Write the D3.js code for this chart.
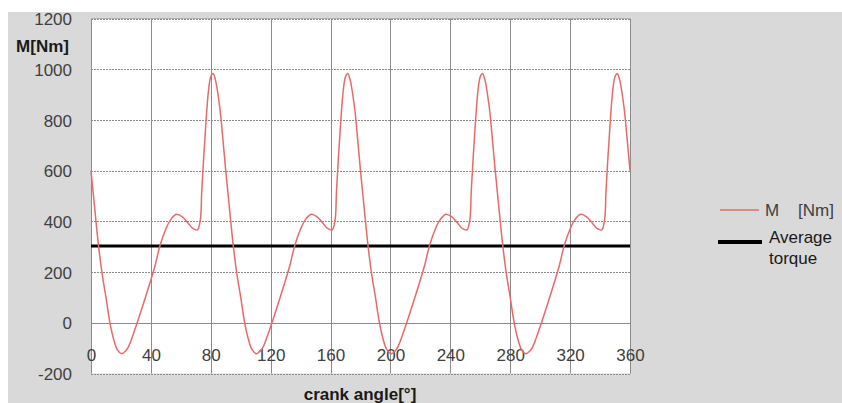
<!DOCTYPE html>
<html>
<head>
<meta charset="utf-8">
<script src="https://cdn.jsdelivr.net/npm/d3@7/dist/d3.min.js"></script>
<style>
  html, body { margin: 0; padding: 0; background: #ffffff; }
  svg { display: block; }
  text { font-family: "Liberation Sans", Arial, sans-serif; }
</style>
</head>
<body>
<svg id="chart" width="842" height="403"></svg>
<script>
// ---- data ----
const angles = [
  0, 2.5, 5, 7.5, 10, 12.5, 15, 17.5, 20.5, 23, 25, 30, 35, 40, 43, 46, 50, 53, 57, 61, 65, 68, 71, 73, 74, 76, 78.5, 80, 81.5, 83, 86, 88,
  90, 92.5, 95, 97.5, 100, 102.5, 105, 107.5, 110.5, 113, 115, 120, 125, 130, 133, 136, 140, 143, 147, 151, 155, 158, 161, 163, 164, 166, 168.5, 170, 171.5, 173, 176, 178,
  180, 182.5, 185, 187.5, 190, 192.5, 195, 197.5, 200.5, 203, 205, 210, 215, 220, 223, 226, 230, 233, 237, 241, 245, 248, 251, 253, 254, 256, 258.5, 260, 261.5, 263, 266, 268,
  270, 272.5, 275, 277.5, 280, 282.5, 285, 287.5, 290.5, 293, 295, 300, 305, 310, 313, 316, 320, 323, 327, 331, 335, 338, 341, 343, 344, 346, 348.5, 350, 351.5, 353, 356, 358,
  360
];
const torque = [
  600, 450, 305, 190, 100, 5, -62, -105, -122, -112, -95, -15, 75, 170, 230, 303, 370, 405, 428, 418, 392, 372, 366, 405, 523, 720, 917, 970, 983, 960, 850, 730,
  600, 450, 305, 190, 100, 5, -62, -105, -122, -112, -95, -15, 75, 170, 230, 303, 370, 405, 428, 418, 392, 372, 366, 405, 523, 720, 917, 970, 983, 960, 850, 730,
  600, 450, 305, 190, 100, 5, -62, -105, -122, -112, -95, -15, 75, 170, 230, 303, 370, 405, 428, 418, 392, 372, 366, 405, 523, 720, 917, 970, 983, 960, 850, 730,
  600, 450, 305, 190, 100, 5, -62, -105, -122, -112, -95, -15, 75, 170, 230, 303, 370, 405, 428, 418, 392, 372, 366, 405, 523, 720, 917, 970, 983, 960, 850, 730,
  600
];
const averageTorque = 303;
const xTicks = [0, 40, 80, 120, 160, 200, 240, 280, 320, 360];
const yTicks = [-200, 0, 200, 400, 600, 800, 1000, 1200];
const xLabel = "crank angle[°]";
const yLabel = "M[Nm]";
const legendLabels = ["M    [Nm]", "Average", "torque"];

// ---- layout ----
const svg = d3.select("#chart");
const plot = { left: 91, right: 630, top: 18.5, bottom: 373.5 };

svg.append("rect").attr("x", 8).attr("y", 12).attr("width", 834).attr("height", 391).attr("fill", "#d9d9d9");

const x = d3.scaleLinear().domain([0, 360]).range([plot.left, plot.right]);
const y = d3.scaleLinear().domain([-200, 1200]).range([plot.bottom, plot.top]);

svg.append("rect")
  .attr("x", plot.left).attr("y", plot.top)
  .attr("width", plot.right - plot.left).attr("height", plot.bottom - plot.top)
  .attr("fill", "#ffffff");

// horizontal dotted gridlines
const g = svg.append("g");
g.selectAll("line.h").data(yTicks.filter(d => d !== 0)).enter().append("line")
  .attr("x1", plot.left).attr("x2", plot.right)
  .attr("y1", d => Math.round(y(d)) + 0.5).attr("y2", d => Math.round(y(d)) + 0.5)
  .attr("stroke", "#8a8a8a").attr("stroke-width", 1).attr("stroke-dasharray", "2,1");

// vertical solid gridlines
g.selectAll("line.v").data(xTicks).enter().append("line")
  .attr("x1", d => Math.round(x(d)) + 0.5).attr("x2", d => Math.round(x(d)) + 0.5)
  .attr("y1", plot.top).attr("y2", plot.bottom)
  .attr("stroke", "#8c8c8c").attr("stroke-width", 1);

// zero axis line (solid)
g.append("line")
  .attr("x1", plot.left).attr("x2", plot.right)
  .attr("y1", Math.round(y(0)) + 0.5).attr("y2", Math.round(y(0)) + 0.5)
  .attr("stroke", "#8c8c8c").attr("stroke-width", 1);

// top border
g.append("line")
  .attr("x1", plot.left).attr("x2", plot.right)
  .attr("y1", plot.top).attr("y2", plot.top)
  .attr("stroke", "#b0b0b0").attr("stroke-width", 1);

// y axis tick labels
const yAxis = d3.axisLeft(y).tickValues(yTicks).tickSize(0).tickPadding(0).tickFormat(d => String(d));
const ya = svg.append("g").attr("transform", "translate(72,0)").call(yAxis);
ya.select(".domain").remove();
ya.selectAll("text").attr("font-size", "17px").attr("fill", "#404040")
  .attr("font-family", "'Liberation Sans', Arial, sans-serif").attr("dy", "0.36em");

// x axis tick labels (just below zero line)
const xAxis = d3.axisBottom(x).tickValues(xTicks).tickSize(0).tickPadding(0).tickFormat(d => String(d));
const xa = svg.append("g").attr("transform", `translate(0,${y(0) + 32})`).call(xAxis);
xa.select(".domain").remove();
xa.selectAll("text").attr("font-size", "17px").attr("fill", "#404040")
  .attr("font-family", "'Liberation Sans', Arial, sans-serif").attr("dy", "0.36em");

// average torque line
svg.append("line")
  .attr("x1", x(0)).attr("x2", x(360))
  .attr("y1", y(averageTorque)).attr("y2", y(averageTorque))
  .attr("stroke", "#000000").attr("stroke-width", 3);

// torque curve
const pts = angles.map((a, i) => [a, torque[i]]);
const line = d3.line().x(d => x(d[0])).y(d => y(d[1])).curve(d3.curveCatmullRom.alpha(0.5));
svg.append("path").datum(pts).attr("d", line)
  .attr("fill", "none").attr("stroke", "#e66a6a").attr("stroke-width", 1.5);

// axis titles
svg.append("text").attr("x", 69).attr("y", 52).attr("text-anchor", "end")
  .attr("font-size", "17px").attr("font-weight", "bold").attr("fill", "#1a1a1a").text(yLabel);
svg.append("text").attr("x", 360).attr("y", 400).attr("text-anchor", "middle")
  .attr("font-size", "17px").attr("font-weight", "bold").attr("fill", "#1a1a1a").text(xLabel);

// legend
svg.append("line").attr("x1", 720).attr("x2", 759).attr("y1", 210).attr("y2", 210)
  .attr("stroke", "#e66a6a").attr("stroke-width", 1.5);
svg.append("text").attr("x", 765).attr("y", 210).attr("dy", "0.36em")
  .attr("font-size", "17px").attr("fill", "#404040").style("white-space", "pre").text(legendLabels[0]);
svg.append("line").attr("x1", 718).attr("x2", 762).attr("y1", 242).attr("y2", 242)
  .attr("stroke", "#000000").attr("stroke-width", 4);
svg.append("text").attr("x", 769).attr("y", 237).attr("dy", "0.36em")
  .attr("font-size", "17px").attr("fill", "#1a1a1a").text(legendLabels[1]);
svg.append("text").attr("x", 769).attr("y", 258).attr("dy", "0.36em")
  .attr("font-size", "17px").attr("fill", "#1a1a1a").text(legendLabels[2]);
</script>
</body>
</html>
